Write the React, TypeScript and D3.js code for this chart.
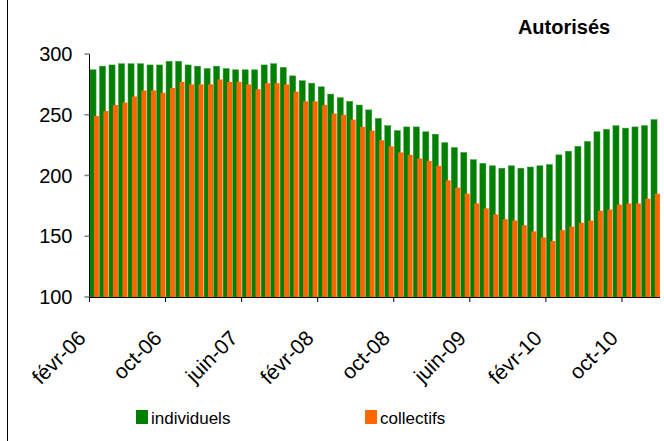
import { useEffect, useRef } from "react";
import * as d3 from "d3";

const monthNames = ["janv", "févr", "mars", "avr", "mai", "juin", "juil", "août", "sept", "oct", "nov", "déc"];

// févr-06 .. janv-11, one category per month
const months: string[] = d3.range(60).map((i) => {
  const k = i + 1;
  return `${monthNames[k % 12]}-${String(6 + Math.floor(k / 12)).padStart(2, "0")}`;
});

const individuels = [
  287, 290, 291, 292, 292, 292, 291, 291, 294, 294, 291, 290,
  288, 290, 288, 287, 287, 287, 291, 292, 289, 282, 278, 276,
  273, 267, 264, 261, 258, 254, 247, 241, 237, 240, 240, 236,
  234, 227, 223, 219, 213, 210, 208, 206, 208, 206, 207, 208,
  209, 217, 220, 224, 228, 236, 238, 241, 239, 240, 241, 246,
];

const collectifs = [
  249, 253, 258, 260, 265, 270, 270, 268, 272, 277, 275, 275,
  275, 279, 277, 277, 275, 271, 276, 276, 275, 269, 261, 261,
  258, 251, 250, 246, 240, 237, 229, 224, 219, 217, 214, 212,
  208, 196, 190, 185, 177, 173, 168, 164, 163, 159, 154, 149,
  146, 155, 158, 161, 163, 171, 172, 176, 177, 177, 181, 185,
];

const tickLabels = ["févr-06", "oct-06", "juin-07", "févr-08", "oct-08", "juin-09", "févr-10", "oct-10"];
const yTicks = [100, 150, 200, 250, 300];

const GREEN = "#008000";
const ORANGE = "#ff6600";
const FONT = "'Liberation Sans', Arial, Helvetica, sans-serif";

export default function App() {
  const ref = useRef<SVGSVGElement>(null);

  useEffect(() => {
    if (!ref.current) return;
    const svg = d3.select(ref.current);
    svg.selectAll("*").remove();

    const width = 664;
    const height = 441;
    const plot = { left: 89.5, right: 660, top: 54, bottom: 297 };

    svg.append("rect").attr("width", width).attr("height", height).attr("fill", "#fff");

    // chart frame (left edge visible)
    svg.append("line").attr("x1", 7.5).attr("x2", 7.5).attr("y1", 0).attr("y2", height).attr("stroke", "#000").attr("stroke-width", 1);

    const x = d3.scaleBand<string>().domain(months).range([plot.left, plot.right]).padding(0);
    const y = d3.scaleLinear().domain([100, 300]).range([plot.bottom, plot.top]);
    const bw = x.bandwidth();

    // individuels (behind)
    svg
      .append("g")
      .selectAll("rect")
      .data(months)
      .join("rect")
      .attr("x", (d) => x(d)! + bw * 0.05)
      .attr("width", bw * 0.64)
      .attr("y", (_, i) => y(individuels[i]))
      .attr("height", (_, i) => y(100) - y(individuels[i]))
      .attr("fill", GREEN)
      .attr("stroke", "#3f9a3f")
      .attr("stroke-width", 0.5);

    // collectifs (front)
    svg
      .append("g")
      .selectAll("rect")
      .data(months)
      .join("rect")
      .attr("x", (d) => x(d)! + bw * 0.46)
      .attr("width", bw * 0.53)
      .attr("y", (_, i) => y(collectifs[i]))
      .attr("height", (_, i) => y(100) - y(collectifs[i]))
      .attr("fill", ORANGE);

    // y axis
    svg.append("line").attr("x1", plot.left).attr("x2", plot.left).attr("y1", plot.top).attr("y2", plot.bottom).attr("stroke", "#000");
    const yg = svg.append("g");
    yTicks.forEach((t) => {
      yg.append("line").attr("x1", plot.left - 5).attr("x2", plot.left).attr("y1", y(t)).attr("y2", y(t)).attr("stroke", "#808080").attr("stroke-width", 1.5);
      yg.append("text")
        .attr("x", plot.left - 17)
        .attr("y", y(t))
        .attr("dy", "0.36em")
        .attr("text-anchor", "end")
        .attr("font-family", FONT)
        .attr("font-size", 20)
        .attr("fill", "#000")
        .text(t);
    });

    // x axis
    svg.append("line").attr("x1", plot.left).attr("x2", plot.right).attr("y1", plot.bottom + 0.5).attr("y2", plot.bottom + 0.5).attr("stroke", "#000");
    const xg = svg.append("g");
    tickLabels.forEach((lab) => {
      const px = x(lab)!;
      xg.append("line").attr("x1", px).attr("x2", px).attr("y1", plot.bottom).attr("y2", plot.bottom + 5).attr("stroke", "#000");
      xg.append("text")
        .attr("transform", `translate(${px - 13},${plot.bottom + 32}) rotate(-45)`)
        .attr("text-anchor", "end")
        .attr("dy", "0.7em")
        .attr("font-family", FONT)
        .attr("font-size", 21)
        .attr("fill", "#000")
        .text(lab);
    });

    // title
    svg.append("text")
      .attr("x", 564)
      .attr("y", 34)
      .attr("text-anchor", "middle")
      .attr("font-family", FONT)
      .attr("font-size", 20)
      .attr("font-weight", "bold")
      .text("Autorisés");

    // legend
    const legend = [
      { label: "individuels", color: GREEN, x: 136 },
      { label: "collectifs", color: ORANGE, x: 365 },
    ];
    legend.forEach((l) => {
      svg.append("rect").attr("x", l.x).attr("y", 410).attr("width", 12).attr("height", 14).attr("fill", l.color);
      svg.append("text")
        .attr("x", l.x + 15)
        .attr("y", 424)
        .attr("font-family", FONT)
        .attr("font-size", 17)
        .attr("fill", "#000")
        .text(l.label);
    });
  }, []);

  return <svg ref={ref} width={664} height={441} style={{ position: "absolute", left: 0, top: 0 }} />;
}
